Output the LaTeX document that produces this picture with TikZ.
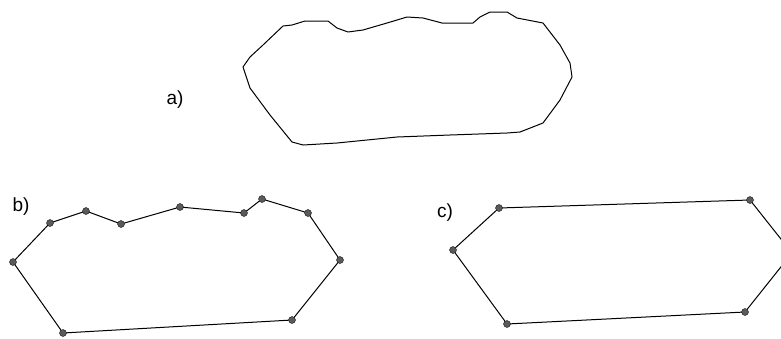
\documentclass[tikz,border=0pt]{standalone}
\usepackage{fontspec}
\setmainfont{Liberation Sans}
\usepackage{tikz}
\definecolor{dotgrey}{RGB}{90, 90, 90}

\begin{document}
\begin{tikzpicture}[x=1pt, y=-1pt,
				outline/.style={draw=black, line width=1pt, line join=round},
				vdot/.style={circle, fill=dotgrey, draw=black, line width=0.3pt, inner sep=0pt, minimum size=7pt},
				lbl/.style={font=\fontsize{19}{22}\selectfont}]
				
				\useasboundingbox (0,0) rectangle (781,338);
				\clip (0,0) rectangle (781,338);
				
				\node[lbl] (la) at (175,100) {a)};
				\node[lbl] (lb) at (21,207) {b)};
				\node[lbl] (lc) at (445,213) {c)};
				
				\draw[outline] (243,67) -- (250,57) -- (263,45) -- (283,26) -- (292,25) -- (305,21) -- (328,21)
					-- (337,28) -- (348,32) -- (363,30) -- (387,23) -- (407,17) -- (423,18) -- (442,23)
					-- (473,23) -- (480,17) -- (490,12) -- (507,12) -- (517,18) -- (543,23) -- (560,45)
					-- (570,63) -- (572,77) -- (560,100) -- (543,123) -- (520,132) -- (507,133) -- (450,135)
					-- (397,137) -- (337,143) -- (303,145) -- (292,142) -- (270,115) -- (250,88) -- cycle;
				
				\coordinate (b1) at (13,262);
				\coordinate (b2) at (50,223);
				\coordinate (b3) at (86,211);
				\coordinate (b4) at (121,224);
				\coordinate (b5) at (180,207);
				\coordinate (b6) at (244,213);
				\coordinate (b7) at (262,199);
				\coordinate (b8) at (308,213);
				\coordinate (b9) at (340,260);
				\coordinate (b10) at (292,320);
				\coordinate (b11) at (63,333);
				
				\draw[outline] (b1) -- (b2) -- (b3) -- (b4) -- (b5) -- (b6) -- (b7) -- (b8) -- (b9) -- (b10) -- (b11) -- cycle;
				\foreach \i in {1,...,11}
					\node[vdot] at (b\i) {};
				
				\coordinate (c1) at (453,250);
				\coordinate (c2) at (499,208);
				\coordinate (c3) at (750,200);
				\coordinate (c4) at (792,253);
				\coordinate (c5) at (745,312);
				\coordinate (c6) at (507,324);
				
				\draw[outline] (c1) -- (c2) -- (c3) -- (c4) -- (c5) -- (c6) -- cycle;
				\foreach \i in {1,...,6}
					\node[vdot] at (c\i) {};
			\end{tikzpicture}
\end{document}
